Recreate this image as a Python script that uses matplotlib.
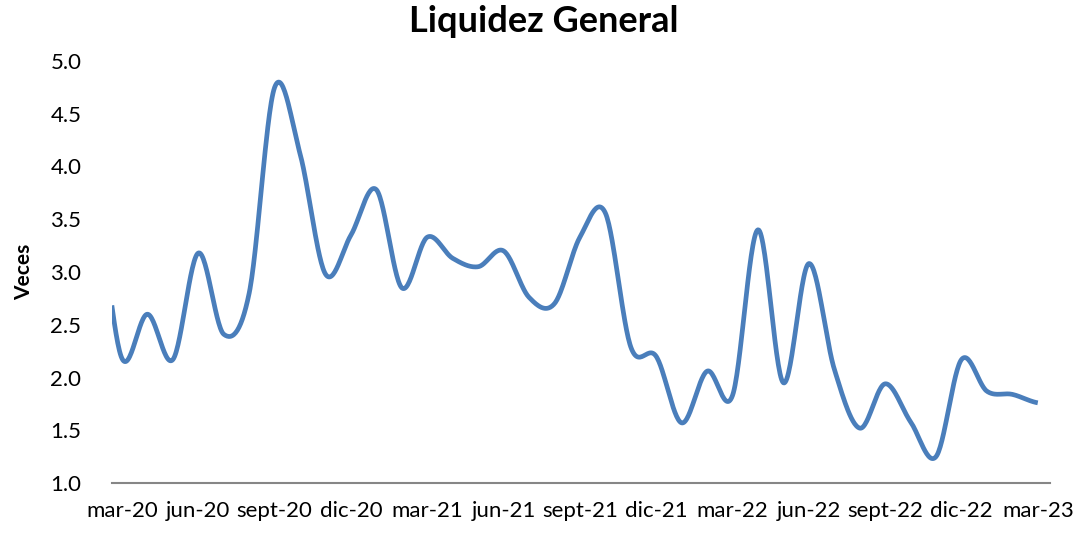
import numpy as np
import matplotlib
matplotlib.use("Agg")
import matplotlib.pyplot as plt

plt.rcParams['font.family'] = ['Lato', 'DejaVu Sans']

# Monthly series, feb-20 .. mar-23
months = ["feb-20", "mar-20", "abr-20", "may-20", "jun-20", "jul-20", "ago-20", "sept-20", "oct-20", "nov-20",
          "dic-20", "ene-21", "feb-21", "mar-21", "abr-21", "may-21", "jun-21", "jul-21", "ago-21",
          "sept-21", "oct-21", "nov-21", "dic-21", "ene-22", "feb-22", "mar-22", "abr-22", "may-22",
          "jun-22", "jul-22", "ago-22", "sept-22", "oct-22", "nov-22", "dic-22", "ene-23", "feb-23",
          "mar-23"]
values = [3.6, 2.18, 2.60, 2.17, 3.18, 2.41, 2.80, 4.75, 4.12, 2.98,
          3.35, 3.78, 2.85, 3.33, 3.13, 3.05, 3.20, 2.76, 2.70,
          3.33, 3.56, 2.29, 2.20, 1.57, 2.06, 1.83, 3.40, 1.95,
          3.08, 2.08, 1.52, 1.94, 1.58, 1.25, 2.17, 1.87, 1.84,
          1.76]
tick_labels = ["mar-20", "jun-20", "sept-20", "dic-20", "mar-21", "jun-21", "sept-21",
               "dic-21", "mar-22", "jun-22", "sept-22", "dic-22", "mar-23"]
title = "Liquidez General"
ylabel = "Veces"

x = np.arange(len(values), dtype=float)
y = np.array(values, dtype=float)

# Catmull-Rom smoothing (like Excel's smoothed line)
def catmull_rom(x, y, n=30):
    px = np.concatenate([[2*x[0]-x[1]], x, [2*x[-1]-x[-2]]])
    py = np.concatenate([[y[0]], y, [y[-1]]])
    xs, ys = [], []
    for i in range(1, len(px)-2):
        t = np.linspace(0, 1, n, endpoint=False)
        p0, p1, p2, p3 = py[i-1], py[i], py[i+1], py[i+2]
        q0, q1, q2, q3 = px[i-1], px[i], px[i+1], px[i+2]
        def cr(a, b, c, d):
            return 0.5*((2*b) + (-a + c)*t + (2*a - 5*b + 4*c - d)*t**2 + (-a + 3*b - 3*c + d)*t**3)
        xs.append(cr(q0, q1, q2, q3)); ys.append(cr(p0, p1, p2, p3))
    xs.append([x[-1]]); ys.append([y[-1]])
    return np.concatenate(xs), np.concatenate(ys)

sx, sy = catmull_rom(x, y)

fig = plt.figure(figsize=(10.8, 5.35), dpi=100)
ax = fig.add_axes([112/1080, (535-483)/535, (1050-112)/1080, (483-61)/535])
ax.plot(sx, sy, color="#4A7EBB", lw=3.4, solid_capstyle="butt", solid_joinstyle="round")

ax.set_ylim(1.0, 5.0)
ax.set_yticks(np.arange(1.0, 5.01, 0.5))
ax.set_yticklabels([f"{v:.1f}" for v in np.arange(1.0, 5.01, 0.5)])
ax.set_xlim(1 - 0.393, 1 + 36.48)
ax.set_xticks(np.arange(1, len(values), 3))
ax.set_xticklabels(tick_labels)

for s in ["top", "right", "left"]:
    ax.spines[s].set_visible(False)
ax.spines["bottom"].set_color("#868686")
ax.spines["bottom"].set_linewidth(1.5)
ax.tick_params(axis="both", length=0, labelsize=16, colors="black")
ax.tick_params(axis="y", pad=22)
ax.tick_params(axis="x", pad=13)

fig.text(544/1080, 1 - 22/535, title, fontsize=26, fontweight="bold", ha="center", va="center")
ax.set_ylabel(ylabel, fontsize=15, fontweight="bold", labelpad=12)

fig.savefig("out.png", dpi=100)
